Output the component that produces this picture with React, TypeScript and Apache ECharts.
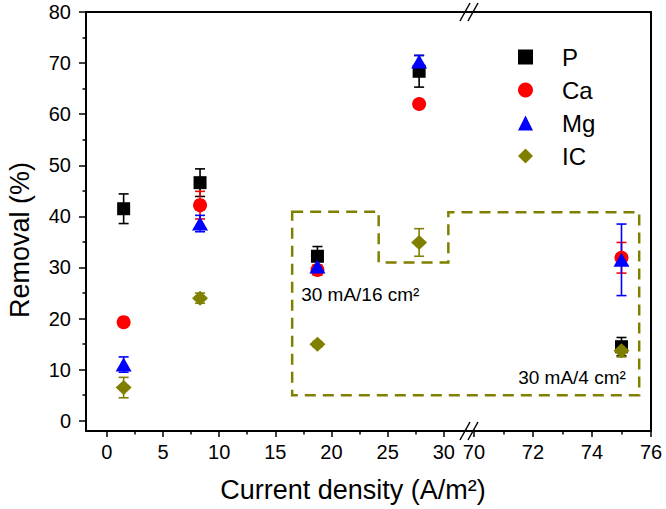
import React, { useEffect, useRef } from 'react';
import * as echarts from 'echarts';

// ---- data ----
const xValues = [1.5, 8.3, 18.75, 27.8, 75];
const seriesNames = ['P', 'Ca', 'Mg', 'IC'];
const pValues = [41.5, 46.6, 32.2, 68.4, 14.5];
const pErrors = [2.9, 2.7, 1.9, 3.1, 1.8];
const caValues = [19.3, 42.2, 29.5, 62.0, 31.9];
const caErrors = [0.6, 2.7, 1.0, 0.5, 3.0];
const mgValues = [11.0, 38.6, 30.2, 70.3, 31.5];
const mgErrors = [1.5, 1.6, 1.0, 1.2, 7.0];
const icValues = [6.5, 24.0, 15.0, 34.9, 13.7];
const icErrors = [2.0, 1.0, 0.5, 2.7, 1.2];

const leftTicks = [0, 5, 10, 15, 20, 25, 30];
const leftMinorTicks = [2.5, 7.5, 12.5, 17.5, 22.5, 27.5];
const rightTicks = [70, 72, 74, 76];
const rightMinorTicks = [71, 73, 75];
const yTicks = [0, 10, 20, 30, 40, 50, 60, 70, 80];
const yMinorTicks = [5, 15, 25, 35, 45, 55, 65, 75];

const xTitle = 'Current density (A/m²)';
const yTitle = 'Removal (%)';
const note16 = '30 mA/16 cm²';
const note4 = '30 mA/4 cm²';

// annotation box outline (data coordinates)
const boxX = [16.5, 24.2, 24.2, 30.4, 30.4, 75.6, 75.6, 16.5];
const boxY = [40.9, 40.9, 31.0, 31.0, 40.8, 40.8, 5.0, 5.0];

const FONT = 'Liberation Sans, Arial, Helvetica, sans-serif';
const BREAK_SPLIT = 50;

const colors = ['#000000', '#ff0000', '#0000ff', '#808000'];
const symbols = ['rect', 'circle', 'triangle', 'diamond'];
const symbolSizes: any[] = [13, 14, [16, 14], [16, 15]];
const valueSets = [pValues, caValues, mgValues, icValues];
const errorSets = [pErrors, caErrors, mgErrors, icErrors];

const LEFT_MIN = -1.85, LEFT_MAX = 32.15;
const RIGHT_MIN = 69.8, RIGHT_MAX = 76;
const Y_MIN = -2, Y_MAX = 80;

export default function App() {
  const ref = useRef<HTMLDivElement>(null);
  useEffect(() => {
    if (!ref.current) return;
    const chart = echarts.init(ref.current, undefined, { renderer: 'svg' });
    const lineStyle = { color: '#000', width: 2 };
    const tickStyle = { color: '#000', width: 1.5 };
    const labelStyle = { fontSize: 20, color: '#000', fontFamily: FONT };

    const makeX = (grid: number, min: number, max: number, ticks: number[], minor: number[]) => [
      {
        type: 'value', gridIndex: grid, position: 'bottom', min, max,
        axisLine: { show: true, onZero: false, lineStyle },
        axisTick: { show: true, customValues: ticks, length: 6, lineStyle: tickStyle },
        axisLabel: { show: true, customValues: ticks, margin: 11, ...labelStyle },
        splitLine: { show: false },
      },
      {
        type: 'value', gridIndex: grid, position: 'bottom', min, max,
        axisLine: { show: false, onZero: false },
        axisTick: { show: true, customValues: minor, length: 3.5, lineStyle: tickStyle },
        axisLabel: { show: false },
        splitLine: { show: false },
      },
      {
        type: 'value', gridIndex: grid, position: 'top', min, max,
        axisLine: { show: true, onZero: false, lineStyle },
        axisTick: { show: false }, axisLabel: { show: false }, splitLine: { show: false },
      },
    ];

    const xAxis = [
      ...makeX(0, LEFT_MIN, LEFT_MAX, leftTicks, leftMinorTicks),
      ...makeX(1, RIGHT_MIN, RIGHT_MAX, rightTicks, rightMinorTicks),
    ];
    const yAxis = [
      {
        type: 'value', gridIndex: 0, position: 'left', min: Y_MIN, max: Y_MAX,
        axisLine: { show: true, onZero: false, lineStyle },
        axisTick: { show: true, customValues: yTicks, length: 7, lineStyle: tickStyle },
        axisLabel: { show: true, customValues: yTicks, margin: 15, ...labelStyle },
        splitLine: { show: false },
      },
      {
        type: 'value', gridIndex: 0, position: 'left', min: Y_MIN, max: Y_MAX,
        axisLine: { show: false, onZero: false },
        axisTick: { show: true, customValues: yMinorTicks, length: 3.5, lineStyle: tickStyle },
        axisLabel: { show: false }, splitLine: { show: false },
      },
      {
        type: 'value', gridIndex: 1, position: 'right', min: Y_MIN, max: Y_MAX,
        axisLine: { show: true, onZero: false, lineStyle },
        axisTick: { show: false }, axisLabel: { show: false }, splitLine: { show: false },
      },
    ];

    const errorRender = (color: string) => (params: any, api: any) => {
      const x = api.value(0), y = api.value(1), e = api.value(2);
      const hi = api.coord([x, y + e]);
      const lo = api.coord([x, y - e]);
      const cap = 5;
      const style = { stroke: color, lineWidth: 1.6 };
      return {
        type: 'group',
        children: [
          { type: 'line', shape: { x1: hi[0], y1: hi[1], x2: lo[0], y2: lo[1] }, style },
          { type: 'line', shape: { x1: hi[0] - cap, y1: hi[1], x2: hi[0] + cap, y2: hi[1] }, style },
          { type: 'line', shape: { x1: lo[0] - cap, y1: lo[1], x2: lo[0] + cap, y2: lo[1] }, style },
        ],
      };
    };

    const series: any[] = [];
    seriesNames.forEach((name, i) => {
      const pts = xValues.map((x, k) => [x, valueSets[i][k], errorSets[i][k]]);
      const segs = [
        { data: pts.filter((p) => p[0] < BREAK_SPLIT), xi: 0, yi: 0 },
        { data: pts.filter((p) => p[0] >= BREAK_SPLIT), xi: 3, yi: 2 },
      ];
      segs.forEach((s) => {
        series.push({
          name: name + ' error', type: 'custom', coordinateSystem: 'cartesian2d',
          xAxisIndex: s.xi, yAxisIndex: s.yi, data: s.data,
          encode: { x: 0, y: 1 }, renderItem: errorRender(colors[i]), silent: true,
        });
      });
      segs.forEach((s) => {
        series.push({
          name, type: 'scatter', xAxisIndex: s.xi, yAxisIndex: s.yi,
          data: s.data.map((p) => [p[0], p[1]]),
          symbol: symbols[i], symbolSize: symbolSizes[i],
          itemStyle: { color: colors[i], opacity: 1 },
        });
      });
    });

    chart.setOption({
      animation: false,
      backgroundColor: '#ffffff',
      grid: [
        { left: 86, top: 12, width: 382, height: 419, outerBoundsMode: 'none' },
        { left: 468, top: 12, width: 183, height: 419, outerBoundsMode: 'none' },
      ],
      xAxis, yAxis,
      legend: {
        orient: 'vertical', left: 513, top: 40,
        itemWidth: 15, itemHeight: 15, itemGap: 9,
        data: seriesNames,
        textStyle: { fontSize: 24, lineHeight: 24, color: '#000', fontFamily: FONT, padding: [0, 0, 0, 24] },
        selectedMode: false,
      },
      series,
    });

    const toPx = (x: number, y: number) =>
      x >= BREAK_SPLIT
        ? (chart.convertToPixel({ xAxisIndex: 3, yAxisIndex: 2 } as any, [x, y]) as number[])
        : (chart.convertToPixel({ xAxisIndex: 0, yAxisIndex: 0 } as any, [x, y]) as number[]);

    const boxPts = boxX.map((x, k) => toPx(x, boxY[k]));
    const n16 = toPx(17.3, 24.7);
    const n4 = toPx(71.5, 8.5);
    const bx = toPx(RIGHT_MIN, Y_MIN)[0];
    const yTop = toPx(0, Y_MAX)[1];
    const yBot = toPx(0, Y_MIN)[1];
    const slash = (cx: number, cy: number) => ({
      type: 'line', shape: { x1: cx - 5, y1: cy + 9, x2: cx + 5, y2: cy - 9 },
      style: { stroke: '#000', lineWidth: 1.5 }, z: 100,
    });

    chart.setOption({
      graphic: [
        {
          type: 'polygon', shape: { points: boxPts },
          style: { fill: 'transparent', stroke: '#808000', lineWidth: 2.5, lineDash: [11, 7] }, z: 50,
        },
        {
          type: 'text', x: n16[0], y: n16[1],
          style: { text: note16, fontSize: 19, fontFamily: FONT, fill: '#000', align: 'left', verticalAlign: 'middle' },
          z: 60,
        },
        {
          type: 'text', x: n4[0], y: n4[1],
          style: { text: note4, fontSize: 19, fontFamily: FONT, fill: '#000', align: 'left', verticalAlign: 'middle' },
          z: 60,
        },
        {
          type: 'text', x: 353, y: 490,
          style: { text: xTitle, fontSize: 27, fontFamily: FONT, fill: '#000', align: 'center', verticalAlign: 'middle' },
        },
        {
          type: 'text', x: 20, y: 240, rotation: Math.PI / 2,
          style: { text: yTitle, fontSize: 27, fontFamily: FONT, fill: '#000', align: 'center', verticalAlign: 'middle' },
        },
        slash(bx - 3, yTop), slash(bx + 5, yTop),
        slash(bx - 3, yBot), slash(bx + 5, yBot),
      ],
    });

    return () => chart.dispose();
  }, []);
  return (
    <div
      ref={ref}
      style={{ position: 'absolute', left: 0, top: 0, width: 666, height: 509, background: '#fff' }}
    />
  );
}
